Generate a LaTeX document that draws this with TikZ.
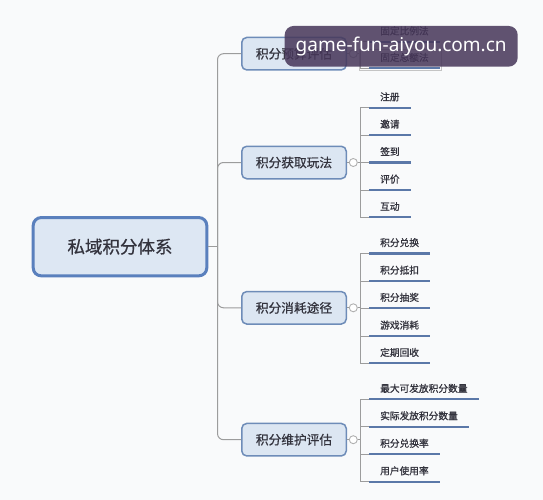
\documentclass[tikz,border=0pt]{standalone}
\usepackage{fontspec}
\setmainfont{Noto Sans CJK SC}
\newfontfamily\boldishfont{Noto Sans CJK SC}[FakeBold=0.7]
\newfontfamily\leaffont{Noto Sans CJK SC}[FakeBold=1.0]
\newfontfamily\wmfont{Noto Sans}
\definecolor{bg}{HTML}{F9FAFB}
\definecolor{rootfill}{HTML}{DDE7F3}
\definecolor{rootline}{HTML}{5A80BD}
\definecolor{brfill}{HTML}{DCE6F2}
\definecolor{brline}{HTML}{6E8CB8}
\definecolor{ulc}{HTML}{5B78A8}
\definecolor{connc}{HTML}{9C9C9C}
\definecolor{txt}{HTML}{33333D}
\definecolor{wmc}{HTML}{47375A}
\begin{document}
\begin{tikzpicture}[x=1pt,y=-1pt,
  rootbox/.style={draw=rootline, line width=3pt, fill=rootfill, rounded corners=8pt, minimum width=173.6pt, minimum height=58.3pt, font=\boldishfont\fontsize{17.5}{20}\selectfont, text=txt, inner sep=0pt},
  brbox/.style={draw=brline, line width=1.5pt, fill=brfill, rounded corners=5pt, minimum width=104.5pt, minimum height=32.5pt, font=\boldishfont\fontsize{12.7}{15}\selectfont, text=txt, inner sep=0pt},
  leaf/.style={anchor=south west, inner xsep=11pt, inner ysep=4pt, text height=8pt, text depth=3pt, font=\leaffont\fontsize{9.7}{12}\selectfont, text=txt},
  ul/.style={draw=ulc, line width=2.2pt},
  conn/.style={draw=connc, line width=1pt},
  knob/.style={circle, draw=connc!80, fill=white, line width=0.9pt, minimum size=8pt, inner sep=0pt},
  selbox/.style={draw=connc!60, line width=0.6pt, minimum width=82pt, minimum height=21pt, inner sep=0pt},
  wm/.style={fill=wmc, fill opacity=0.86, text opacity=1, rounded corners=9pt, minimum width=233pt, minimum height=40.7pt, text=white, font=\wmfont\fontsize{19}{22}\selectfont, inner sep=0pt},
]
\fill[bg] (0,0) rectangle (543,500);
\useasboundingbox (0,0) rectangle (543,500);

% root and branches
\node[rootbox] (root) at (120,246.7) {私域积分体系};
\node[brbox] (b1) at (294,53.7) {积分预算评估};
\node[brbox] (b2) at (294,162.5) {积分获取玩法};
\node[brbox] (b3) at (294,307.8) {积分消耗途径};
\node[brbox] (b4) at (294,439.7) {积分维护评估};

\coordinate (hub) at (217.5,246.7);
\draw[conn] (root.east) -- (hub);
\foreach \b in {b1,b2,b3,b4} \draw[conn, rounded corners=6pt] (hub) |- (\b.west);

% knobs and leaf trunks
\foreach \k/\y in {1/53.7,2/162.5,3/307.8,4/439.7} {
  \node[knob] (k\k) at (353.3,\y) {};
  \coordinate (t\k) at (360,\y);
  \draw[conn] (b\k.east) -- (k\k.west);
  \draw[conn] (k\k.east) -- (t\k);
}

% selection outline
\node[selbox] (sel) at (400,59.5) {};

% leaves of branch 1
\foreach \i/\y/\t in {1/41.7/固定比例法, 2/68.3/固定总额法} {
  \node[leaf] (l1\i) at (369,\y) {\t};
  \draw[ul] (l1\i.south west) -- (l1\i.south east);
  \draw[conn] (t1 |- l1\i.south west) -- (l1\i.south west);
}
\draw[conn] (t1 |- l11.south west) -- (t1 |- l12.south west);

% leaves of branch 2
\foreach \i/\y/\t in {1/107.7/注册, 2/135/邀请, 3/162.5/签到, 4/190/评价, 5/217.3/互动} {
  \node[leaf] (l2\i) at (369,\y) {\t};
  \draw[ul] (l2\i.south west) -- (l2\i.south east);
  \draw[conn] (t2 |- l2\i.south west) -- (l2\i.south west);
}
\draw[conn] (t2 |- l21.south west) -- (t2 |- l25.south west);

% leaves of branch 3
\foreach \i/\y/\t in {1/253.5/积分兑换, 2/281/积分抵扣, 3/308.3/积分抽奖, 4/336/游戏消耗, 5/363.3/定期回收} {
  \node[leaf] (l3\i) at (369,\y) {\t};
  \draw[ul] (l3\i.south west) -- (l3\i.south east);
  \draw[conn] (t3 |- l3\i.south west) -- (l3\i.south west);
}
\draw[conn] (t3 |- l31.south west) -- (t3 |- l35.south west);

% leaves of branch 4
\foreach \i/\y/\t in {1/399.3/最大可发放积分数量, 2/426.7/实际发放积分数量, 3/454.2/积分兑换率, 4/481.7/用户使用率} {
  \node[leaf] (l4\i) at (369,\y) {\t};
  \draw[ul] (l4\i.south west) -- (l4\i.south east);
  \draw[conn] (t4 |- l4\i.south west) -- (l4\i.south west);
}
\draw[conn] (t4 |- l41.south west) -- (t4 |- l44.south west);

% watermark
\node[wm] (wm) at (401.2,46.3) {game-fun-aiyou.com.cn};
\end{tikzpicture}
\end{document}
